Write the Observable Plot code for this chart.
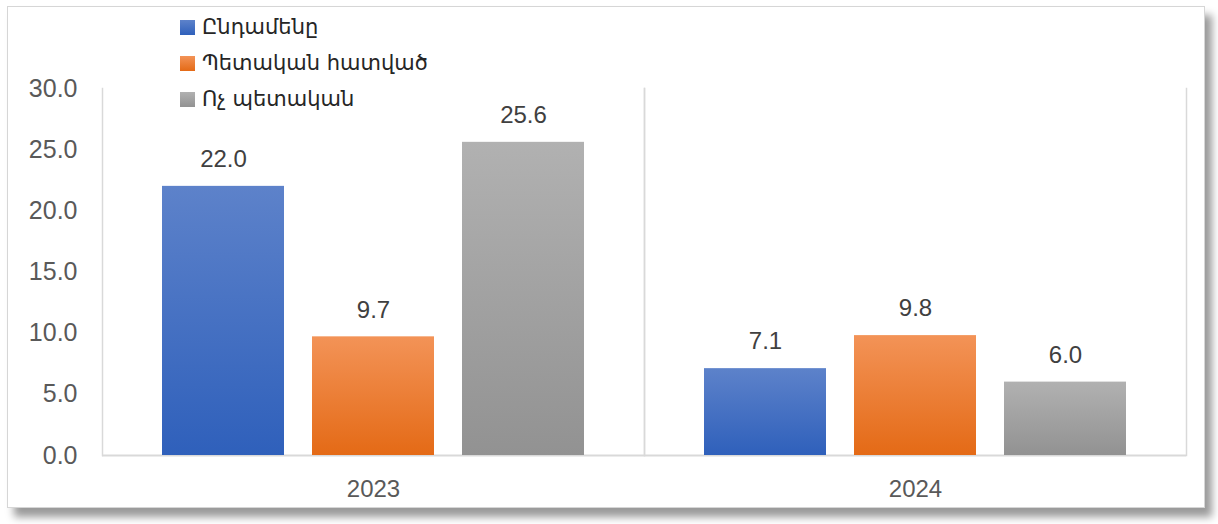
<!DOCTYPE html>
<html>
<head>
<meta charset="utf-8">
<script src="https://cdn.jsdelivr.net/npm/d3@7"></script>
<script src="https://cdn.jsdelivr.net/npm/@observablehq/plot@0.6"></script>
<style>
  html, body { margin: 0; padding: 0; background: #fff; }
  body { width: 1218px; height: 524px; position: relative; overflow: hidden; }
  #frame {
    position: absolute; left: 7px; top: 6px; width: 1196px; height: 500px;
    border: 1px solid #d6d6d6; background: #fff;
    box-shadow: 7px 9px 8px rgba(0,0,0,0.4);
  }
  #chart { position: absolute; left: 0; top: 0; }
  #legend {
    position: absolute; left: 180px; top: 9px;
    font-family: "DejaVu Sans", "Noto Sans", sans-serif; font-size: 21px; color: #262626;
  }
  .item { display: flex; align-items: center; height: 36px; }
  .sw { width: 15px; height: 15px; margin-right: 7px; }
</style>
</head>
<body>
<div id="frame"></div>
<div id="chart"></div>
<div id="legend"></div>
<script>
// ---- data ----
const years = ["2023", "2024"];
const series = ["Ընդամենը", "Պետական հատված", "Ոչ պետական"];
const totalValues = [22.0, 7.1];
const stateValues = [9.7, 9.8];
const nonStateValues = [25.6, 6.0];
const yTicks = [0, 5, 10, 15, 20, 25, 30];

// colors (top, bottom of gradient)
const grads = [
  {id: "gBlue", top: "#5d82ca", bottom: "#2f60bb"},
  {id: "gOrange", top: "#f39357", bottom: "#e46a16"},
  {id: "gGray", top: "#b1b1b1", bottom: "#929292"}
];

const valuesBySeries = [totalValues, stateValues, nonStateValues];
const rows = [];
years.forEach((yr, i) => {
  series.forEach((s, j) => rows.push({year: yr, series: s, value: valuesBySeries[j][i], k: j}));
});

const font = "'Liberation Sans', Arial, sans-serif";

const barMarks = series.map((s, j) =>
  Plot.barY(rows.filter(d => d.k === j), {
    fx: "year", x: "series", y: "value",
    fill: `url(#${grads[j].id})`,
    style: "filter: drop-shadow(2px 1px 2px rgba(0,0,0,0.35))"
  })
);

const chart = Plot.plot({
  width: 1218,
  height: 524,
  marginLeft: 101,
  marginRight: 32,
  marginTop: 88,
  marginBottom: 69,
  style: {background: "transparent", fontFamily: font, fontSize: "24px", color: "#595959"},
  fx: {domain: years, padding: 0, label: null, axis: null},
  x: {domain: series, paddingInner: 0.187, paddingOuter: 0.4, axis: null},
  y: {domain: [0, 30], label: null, axis: null},
  marks: [
    Plot.frame({anchor: "left", stroke: "#d9d9d9", strokeWidth: 1.5}),
    Plot.frame({anchor: "right", stroke: "#d9d9d9", strokeWidth: 1.5}),
    Plot.ruleY([0], {stroke: "#d9d9d9", strokeWidth: 2}),
    ...barMarks,
    Plot.text(rows, {
      fx: "year", x: "series", y: "value",
      text: d => d.value.toFixed(1), dy: -27,
      fill: "#404040", fontSize: 24, fontFamily: font
    }),
    Plot.axisY({ticks: yTicks, tickFormat: d => d.toFixed(1), tickSize: 0, tickPadding: 25,
      fill: "#595959", fontSize: 25, label: null}),
    Plot.axisFx({tickSize: 0, tickPadding: 24, fill: "#595959", fontSize: 24, label: null, anchor: "bottom"})
  ]
});

// gradient defs
const svg = d3.select(chart);
const defs = svg.insert("defs", ":first-child");
grads.forEach(g => {
  const lg = defs.append("linearGradient").attr("id", g.id)
    .attr("x1", 0).attr("y1", 0).attr("x2", 0).attr("y2", 1);
  lg.append("stop").attr("offset", "0%").attr("stop-color", g.top);
  lg.append("stop").attr("offset", "100%").attr("stop-color", g.bottom);
});

document.getElementById("chart").appendChild(chart);

// legend
const legend = d3.select("#legend");
series.forEach((s, j) => {
  const it = legend.append("div").attr("class", "item");
  it.append("div").attr("class", "sw")
    .style("background", `linear-gradient(${grads[j].top}, ${grads[j].bottom})`);
  it.append("span").text(s);
});
</script>
</body>
</html>
